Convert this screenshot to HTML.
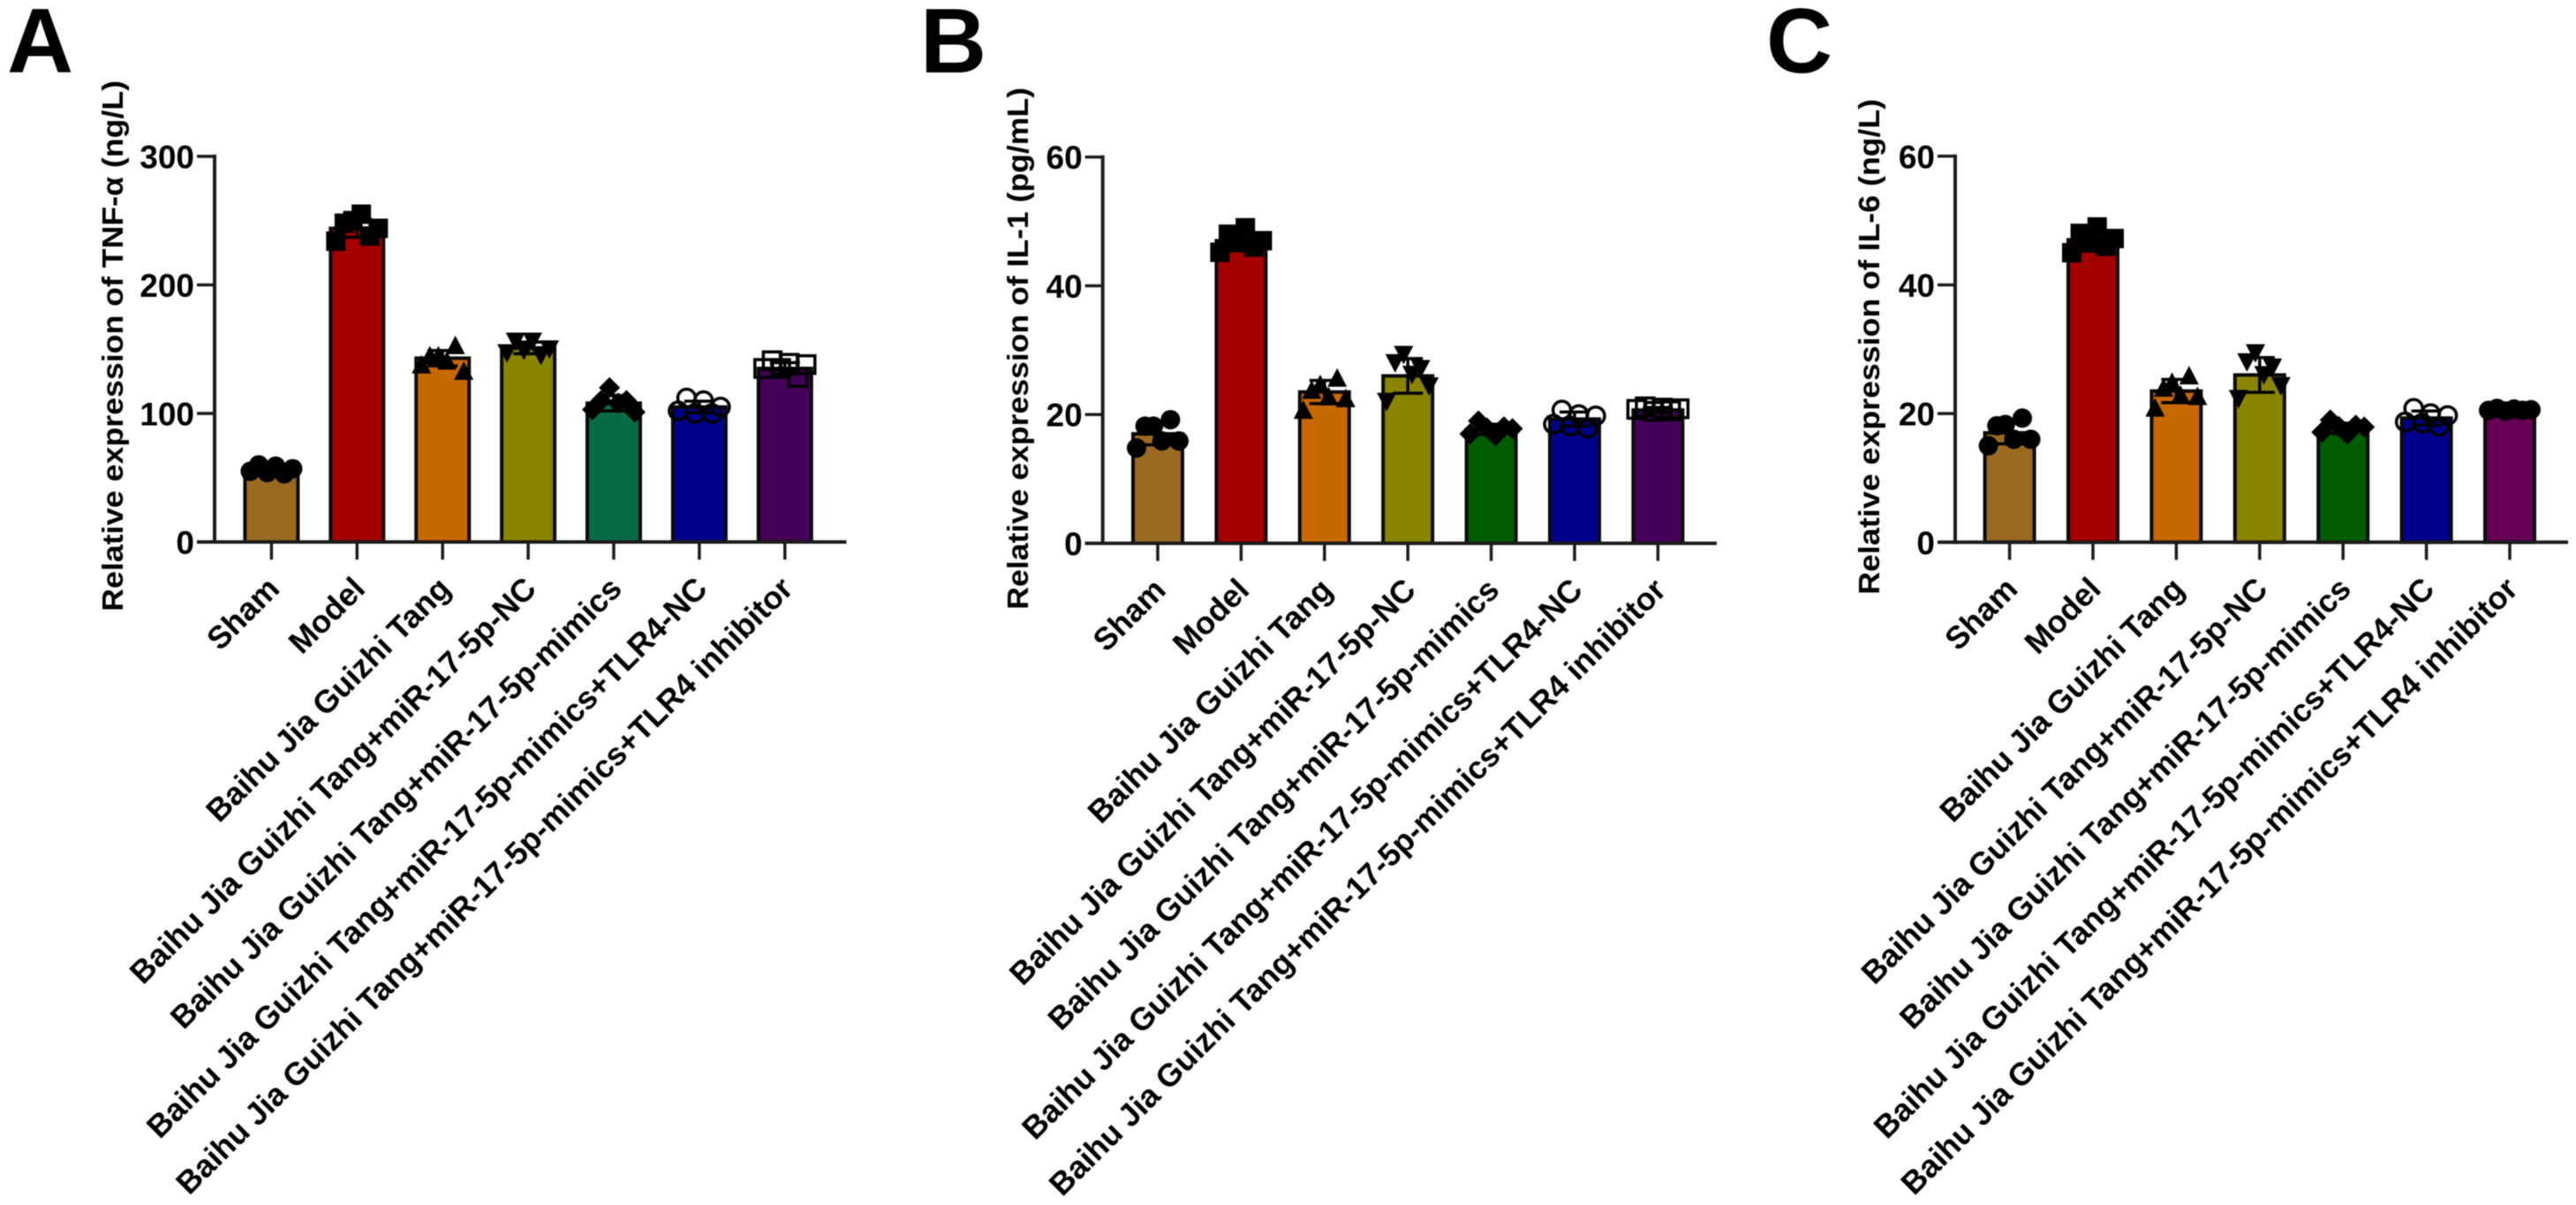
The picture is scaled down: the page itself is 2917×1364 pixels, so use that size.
<!DOCTYPE html>
<html lang="en">
<head>
<meta charset="utf-8">
<title>Cytokine expression panels</title>
<style>
html,body{margin:0;padding:0;background:#fff;}
svg{display:block;filter:blur(0.6px);}
text{font-family:"Liberation Sans",Arial,sans-serif;font-weight:bold;fill:#000;}
</style>
</head>
<body>
<svg id="figure" xmlns="http://www.w3.org/2000/svg" width="2917" height="1364" viewBox="0 0 2917 1364">
  <rect width="2917" height="1364" fill="#fff"/>
  <g id="panel-a">
    <text x="8" y="82" font-size="104">A</text>
    <text transform="translate(139,692) rotate(-90)" font-size="33" textLength="601" lengthAdjust="spacingAndGlyphs">Relative expression of TNF-α (ng/L)</text>
  </g>
  <g id="panel-b">
    <text x="1042" y="82" font-size="104">B</text>
    <text transform="translate(1164,690) rotate(-90)" font-size="33" textLength="591" lengthAdjust="spacingAndGlyphs">Relative expression of IL-1 (pg/mL)</text>
  </g>
  <g id="panel-c">
    <text x="2000" y="82" font-size="104">C</text>
    <text transform="translate(2128,673) rotate(-90)" font-size="33" textLength="561" lengthAdjust="spacingAndGlyphs">Relative expression of IL-6 (ng/L)</text>
  </g>
</svg>
<script>
const categories = [
  "Sham",
  "Model",
  "Baihu Jia Guizhi Tang",
  "Baihu Jia Guizhi Tang+miR-17-5p-NC",
  "Baihu Jia Guizhi Tang+miR-17-5p-mimics",
  "Baihu Jia Guizhi Tang+miR-17-5p-mimics+TLR4-NC",
  "Baihu Jia Guizhi Tang+miR-17-5p-mimics+TLR4 inhibitor"
];

const tnfTicks = [0, 100, 200, 300];
const tnfMeans = [57, 244, 143, 151, 108, 105, 135];
const tnfSds = [2.5, 7, 6, 4.5, 6, 4.5, 4.5];
const tnfPoints = [
  [55, 60, 54, 59, 53, 57],
  [234, 248, 250, 255, 238, 244],
  [138, 145, 145, 141, 153, 133],
  [147, 156, 149, 156, 145, 150],
  [103, 110, 120, 108, 110, 101],
  [102, 112, 100, 110, 100, 105],
  [135, 141, 135, 139, 128, 138]
];

const il1Ticks = [0, 20, 40, 60];
const il1Means = [17, 47, 23.5, 26, 17.7, 19.3, 20.7];
const il1Sds = [1.7, 1.2, 1.8, 2.7, 0.8, 1.1, 0.4];
const il1Points = [
  [14.8, 18.2, 18.2, 15.9, 19.2, 15.9],
  [45.2, 48, 46.7, 49, 46, 47],
  [20.7, 23.8, 24.7, 22.8, 25.7, 22.5],
  [22, 28, 29.3, 26.2, 27.1, 24.4],
  [17, 19, 17.9, 16.7, 18.1, 17.8],
  [18.5, 20.7, 18.2, 20, 17.9, 19.8],
  [20.8, 21.2, 20.5, 21, 20.6, 20.9]
];

const il6Ticks = [0, 20, 40, 60];
const il6Means = [17, 47, 23.5, 26, 17.7, 19.3, 20.6];
const il6Sds = [1.7, 1.2, 1.8, 2.7, 0.8, 1.1, 0.3];
const il6Points = [
  [15, 18.1, 18.3, 16, 19.3, 16],
  [45, 48, 46.5, 49, 46, 47.2],
  [20.9, 24, 24.9, 22.9, 25.9, 22.7],
  [22.3, 28, 29.4, 26, 27.2, 24.3],
  [17.1, 19, 18, 16.8, 18.2, 17.9],
  [18.7, 20.8, 18.5, 20, 18, 19.7],
  [20.5, 20.8, 20.4, 20.7, 20.5, 20.6]
];

const tnfColors = ["#9a6a22", "#a50000", "#c76800", "#8a8500", "#086b45", "#00008c", "#450059"];
const il1Colors = ["#9a6a22", "#a50000", "#c76800", "#8a8500", "#005c00", "#00008c", "#450059"];
const il6Colors = ["#9a6a22", "#a50000", "#c76800", "#8a8500", "#005c00", "#00008c", "#660055"];
const tnfMarkers = ["circle", "square", "triUp", "triDown", "diamond", "openCircle", "openSquare"];
const il1Markers = ["circle", "square", "triUp", "triDown", "diamond", "openCircle", "openSquare"];
const il6Markers = ["circle", "square", "triUp", "triDown", "diamond", "openCircle", "circle"];

const NS = "http://www.w3.org/2000/svg";

function make(parent, tag, attrs, text) {
  const el = document.createElementNS(NS, tag);
  for (const k in attrs) el.setAttribute(k, attrs[k]);
  if (text !== undefined) el.textContent = text;
  parent.appendChild(el);
  return el;
}

function drawMarker(parent, shape, cx, cy) {
  const r = 11;
  let el;
  if (shape === "circle") {
    el = make(parent, "circle", { cx: cx, cy: cy, r: r, fill: "#000" });
  } else if (shape === "openCircle") {
    el = make(parent, "circle", { cx: cx, cy: cy, r: r - 1, fill: "none", stroke: "#000", "stroke-width": 3.5 });
  } else if (shape === "square") {
    el = make(parent, "rect", { x: cx - r, y: cy - r, width: 2 * r, height: 2 * r, fill: "#000" });
  } else if (shape === "openSquare") {
    el = make(parent, "rect", { x: cx - r + 1, y: cy - r + 1, width: 2 * r - 2, height: 2 * r - 2, fill: "none", stroke: "#000", "stroke-width": 3.5 });
  } else if (shape === "triUp") {
    el = make(parent, "polygon", { points: [cx, cy - r, cx + r, cy + r - 1, cx - r, cy + r - 1].join(" "), fill: "#000" });
  } else if (shape === "triDown") {
    el = make(parent, "polygon", { points: [cx, cy + r, cx + r, cy - r + 1, cx - r, cy - r + 1].join(" "), fill: "#000" });
  } else {
    el = make(parent, "polygon", { points: [cx, cy - r - 1, cx + r + 1, cy, cx, cy + r + 1, cx - r - 1, cy].join(" "), fill: "#000" });
  }
  
  
}

function drawPanel(cfg) {
  const root = document.getElementById(cfg.id);
  const yScale = function (v) {
    return cfg.y0 - (v / cfg.ticks[cfg.ticks.length - 1]) * (cfg.y0 - cfg.yTop);
  };
  const xScale = function (i) {
    return cfg.x0 + i * cfg.step;
  };
  const axisColor = "#1c1c1c";

  cfg.means.forEach(function (m, i) {
    const cx = xScale(i);
    const group = make(root, "g", {});
    
    

    const top = yScale(m);
    const bar = make(group, "rect", {
      x: cx - cfg.barW / 2, y: top, width: cfg.barW, height: cfg.y0 - top,
      fill: cfg.colors[i], stroke: "#0a0a0a", "stroke-width": 4
    });
    
    

    const hi = yScale(m + cfg.sds[i]);
    const lo = yScale(m - cfg.sds[i]);
    const err = make(group, "path", {
      d: "M" + (cx - 17) + " " + hi + "H" + (cx + 17) + "M" + cx + " " + hi + "V" + lo + "M" + (cx - 17) + " " + lo + "H" + (cx + 17),
      fill: "none", stroke: "#000", "stroke-width": 3.5
    });
    
    

    cfg.points[i].forEach(function (v, j) {
      drawMarker(group, cfg.markers[i], cx + (j - 2.5) * 9.6, yScale(v));
    });
  });

  const yAxis = make(root, "line", { x1: cfg.axisX, x2: cfg.axisX, y1: cfg.yTop - 2, y2: cfg.y0 + 2, stroke: axisColor, "stroke-width": 4 });
  
  

  const xAxis = make(root, "line", { x1: cfg.axisX - 20, x2: cfg.xEnd, y1: cfg.y0, y2: cfg.y0, stroke: axisColor, "stroke-width": 4 });
  
  

  cfg.ticks.forEach(function (t) {
    const y = yScale(t);
    const tick = make(root, "line", { x1: cfg.axisX - 20, x2: cfg.axisX, y1: y, y2: y, stroke: axisColor, "stroke-width": 3.5 });
    
    
    const label = make(root, "text", { x: cfg.axisX - 23, y: y + 13.5, "text-anchor": "end", "font-size": 37 }, String(t));
    
    
  });

  categories.forEach(function (c, i) {
    const cx = xScale(i);
    const tick = make(root, "line", { x1: cx, x2: cx, y1: cfg.y0, y2: cfg.y0 + 20, stroke: axisColor, "stroke-width": 3.5 });
    
    
    const label = make(root, "text", {
      transform: "translate(" + (cx + 11) + "," + (cfg.y0 + 55) + ") rotate(-45)",
      "text-anchor": "end", "font-size": 36
    }, c);
    
    
  });
}

drawPanel({ id: "panel-a", ticks: tnfTicks, means: tnfMeans, sds: tnfSds, points: tnfPoints, colors: tnfColors, markers: tnfMarkers,
  axisX: 243, y0: 613.5, yTop: 177, x0: 307.4, step: 96.9, barW: 60, xEnd: 958.5 });
drawPanel({ id: "panel-b", ticks: il1Ticks, means: il1Means, sds: il1Sds, points: il1Points, colors: il1Colors, markers: il1Markers,
  axisX: 1248.7, y0: 615, yTop: 177.7, x0: 1311, step: 94.4, barW: 56, xEnd: 1944 });
drawPanel({ id: "panel-c", ticks: il6Ticks, means: il6Means, sds: il6Sds, points: il6Points, colors: il6Colors, markers: il6Markers,
  axisX: 2214, y0: 613.8, yTop: 176.8, x0: 2275.6, step: 94.4, barW: 56, xEnd: 2908 });
</script>
</body>
</html>
